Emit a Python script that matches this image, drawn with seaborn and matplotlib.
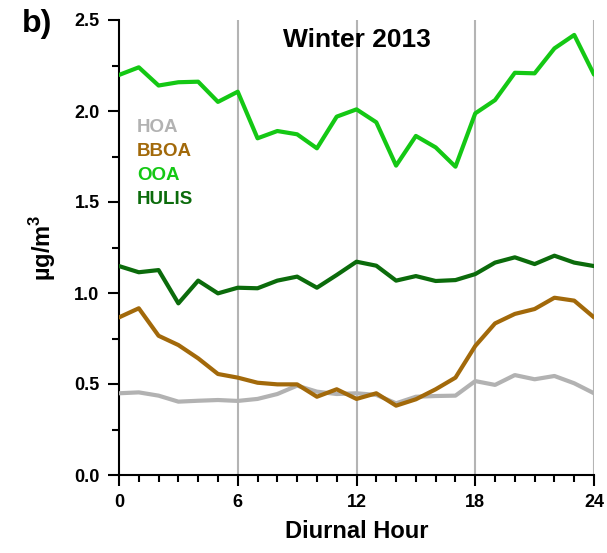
import numpy as np
import pandas as pd
import matplotlib
matplotlib.use("Agg")
import matplotlib.pyplot as plt
import seaborn as sns
from matplotlib.ticker import MultipleLocator

hours = list(range(25))
hoa = [0.449, 0.454, 0.436, 0.403, 0.408, 0.412, 0.407, 0.418, 0.445, 0.491, 0.458, 0.445, 0.449,
       0.440, 0.394, 0.430, 0.434, 0.436, 0.516, 0.495, 0.549, 0.526, 0.544, 0.504, 0.449]
bboa = [0.866, 0.916, 0.765, 0.714, 0.641, 0.555, 0.535, 0.507, 0.498, 0.498, 0.430, 0.471, 0.418,
        0.449, 0.381, 0.416, 0.471, 0.535, 0.709, 0.833, 0.885, 0.912, 0.974, 0.958, 0.866]
ooa = [2.198, 2.240, 2.140, 2.158, 2.161, 2.050, 2.106, 1.850, 1.890, 1.872, 1.795, 1.969, 2.009,
       1.938, 1.700, 1.863, 1.800, 1.694, 1.987, 2.060, 2.210, 2.207, 2.344, 2.418, 2.200]
hulis = [1.148, 1.114, 1.126, 0.943, 1.068, 0.998, 1.029, 1.026, 1.068, 1.090, 1.029, 1.099, 1.172,
         1.150, 1.068, 1.093, 1.066, 1.071, 1.104, 1.167, 1.196, 1.159, 1.205, 1.167, 1.148]

series_names = ["HOA", "BBOA", "OOA", "HULIS"]
colors = ["#b2b2b2", "#a2690a", "#14c814", "#0b6b0b"]
xticks = [0, 6, 12, 18, 24]
yticks = [0.0, 0.5, 1.0, 1.5, 2.0, 2.5]

df = pd.concat([
    pd.DataFrame({"hour": hours, "value": vals, "factor": name})
    for name, vals in zip(series_names, [hoa, bboa, ooa, hulis])
], ignore_index=True)

sns.set_style("ticks")
plt.rcParams["font.family"] = ["Liberation Sans", "DejaVu Sans"]
plt.rcParams["font.weight"] = "bold"
plt.rcParams["text.color"] = "black"
plt.rcParams["axes.labelcolor"] = "black"
plt.rcParams["xtick.color"] = "black"
plt.rcParams["ytick.color"] = "black"
plt.rcParams["mathtext.fontset"] = "custom"
plt.rcParams["mathtext.bf"] = "Liberation Sans:bold"
plt.rcParams["mathtext.rm"] = "Liberation Sans:bold"

fig = plt.figure(figsize=(6.07, 5.53), dpi=100)
ax = fig.add_axes([119/607, 1 - 475/553, 475/607, 455/553])

for x in [6, 12, 18, 24]:
    ax.axvline(x, color="#b4b4b4", lw=1.5, zorder=0)

sns.lineplot(data=df, x="hour", y="value", hue="factor", hue_order=series_names,
             palette=dict(zip(series_names, colors)), lw=3, legend=False, ax=ax,
             zorder=3)

ax.set_xlim(0, 24)
ax.set_ylim(0, 2.5)
ax.set_xticks(xticks)
ax.set_yticks(yticks)
ax.set_xticklabels([str(t) for t in xticks], fontsize=13, fontweight="bold", color="black")
ax.set_yticklabels([f"{t:.1f}" for t in yticks], fontsize=13, fontweight="bold", color="black")
ax.xaxis.set_minor_locator(MultipleLocator(1))
ax.yaxis.set_minor_locator(MultipleLocator(0.25))
ax.tick_params(which="major", direction="out", length=8, width=1.5, pad=6, color="black")
ax.tick_params(which="minor", direction="out", length=5, width=1.5, color="black")
for s in ["top", "right"]:
    ax.spines[s].set_visible(False)
for s in ["left", "bottom"]:
    ax.spines[s].set_linewidth(1.5)
    ax.spines[s].set_color("black")

ax.set_xlabel("Diurnal Hour", fontsize=17, fontweight="bold", labelpad=6, color="black")
ax.set_ylabel("µg/m$^\\mathbf{3}$", fontsize=17, fontweight="bold", labelpad=12, color="black")

ax.text(0.5, 0.955, "Winter 2013", transform=ax.transAxes, ha="center", va="center",
        fontsize=19, fontweight="bold", color="black")
fig.text(22/607, 1 - 24/553, "b)", fontsize=23, fontweight="bold", ha="left", va="center",
         color="black")

for i, (name, c) in enumerate(zip(series_names, colors)):
    ax.text(0.038, (475 - 127 - 24.2 * i) / 455, name, transform=ax.transAxes,
            color=c, fontsize=13.5, fontweight="bold", ha="left", va="center")

fig.savefig("out.png", dpi=100)
